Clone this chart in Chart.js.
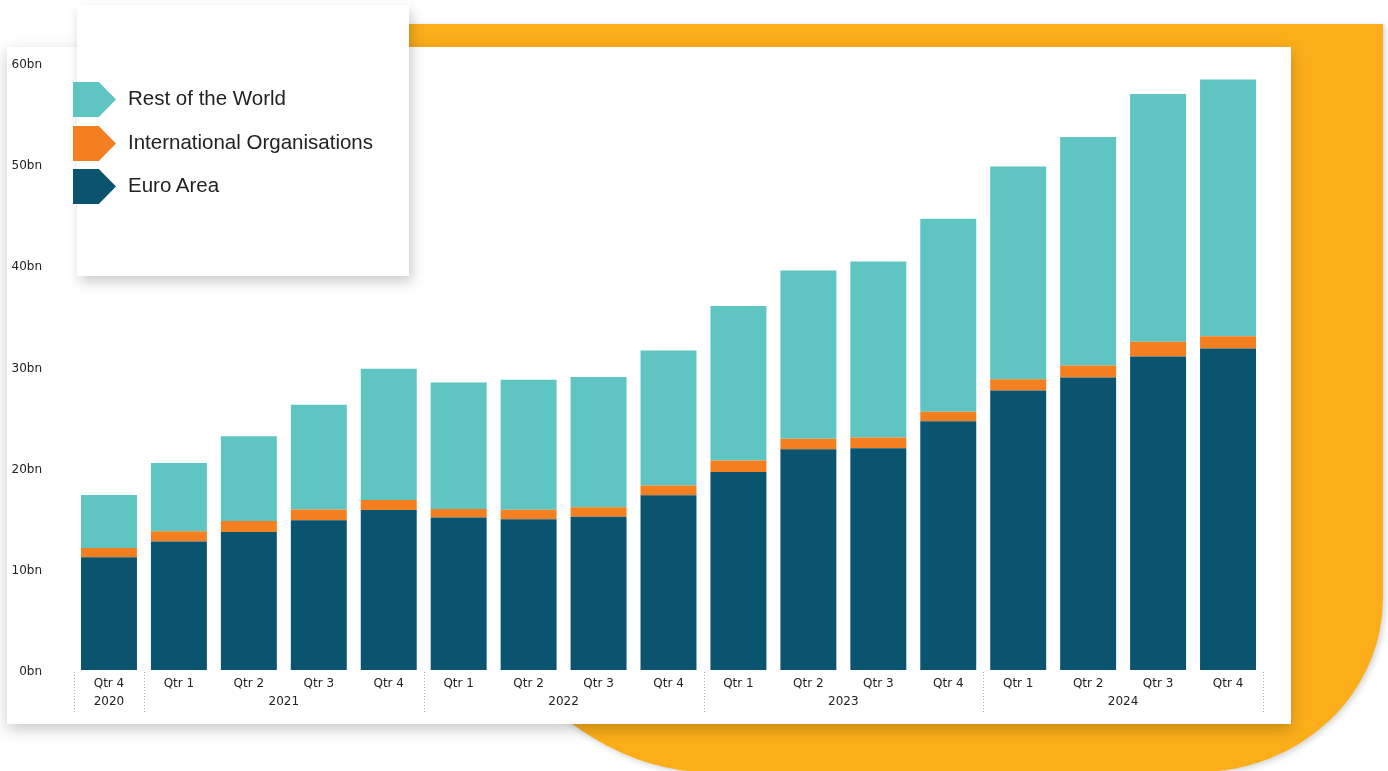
<!DOCTYPE html>
<html>
<head>
<meta charset="utf-8">
<script src="https://cdn.jsdelivr.net/npm/chart.js@4.4.1/dist/chart.umd.min.js"></script>
<style>
  html, body { margin: 0; padding: 0; background: #ffffff; }
  body { width: 1388px; height: 771px; position: relative; overflow: hidden; }
  #orange {
    position: absolute; left: 409px; top: 24px; width: 974px; height: 748px;
    background: #FBAE1A;
    border-radius: 0 0 185px 300px / 0 0 174px 439px;
    box-shadow: 2px 2px 6px rgba(0,0,0,0.18);
  }
  #card {
    position: absolute; left: 7px; top: 47px; width: 1284px; height: 677px;
    background: #ffffff;
    box-shadow: 0 5px 14px rgba(0,0,0,0.22);
  }
  #legendCard {
    position: absolute; left: 77px; top: 5px; width: 332px; height: 271px;
    background: #ffffff;
    box-shadow: 3px 6px 12px rgba(0,0,0,0.2);
  }
  .lg-mark {
    position: absolute; left: 73px; width: 43px; height: 35px;
    clip-path: polygon(0 0, 60% 0, 100% 50%, 60% 100%, 0 100%);
  }
  .lg-text {
    position: absolute; left: 128px; height: 30px; line-height: 30px;
    font-family: "Liberation Sans", Arial, sans-serif; font-size: 20.5px; color: #222;
    white-space: nowrap;
  }
  canvas { position: absolute; left: 0; top: 0; }
</style>
</head>
<body>
<div id="orange"></div>
<div id="card"><canvas id="chart" width="1284" height="677"></canvas></div>
<div id="legendCard"></div>
<div id="legend"></div>
<script>
const quarters = ["Qtr 4","Qtr 1","Qtr 2","Qtr 3","Qtr 4","Qtr 1","Qtr 2","Qtr 3","Qtr 4","Qtr 1","Qtr 2","Qtr 3","Qtr 4","Qtr 1","Qtr 2","Qtr 3","Qtr 4"];
const years = ["2020","2021","2021","2021","2021","2022","2022","2022","2022","2023","2023","2023","2023","2024","2024","2024","2024"];
const yTicks = [0, 10, 20, 30, 40, 50, 60];
const euroArea = [11.15, 12.69, 13.65, 14.81, 15.82, 15.07, 14.91, 15.16, 17.28, 19.58, 21.83, 21.93, 24.59, 27.63, 28.91, 31.00, 31.78];
const intlOrgs = [0.92, 1.03, 1.09, 1.05, 0.99, 0.85, 0.92, 0.93, 0.95, 1.12, 1.02, 1.04, 0.93, 1.11, 1.19, 1.44, 1.21];
const restOfWorld = [5.24, 6.73, 8.37, 10.35, 12.96, 12.49, 12.85, 12.86, 13.35, 15.28, 16.63, 17.42, 19.09, 21.04, 22.59, 24.50, 25.37];
const seriesNames = ["Euro Area", "International Organisations", "Rest of the World"];
const seriesColors = ["#0B5470", "#F47F20", "#5EC5C2"];
const legendOrder = [2, 1, 0];

// HTML legend built from series definitions
const legendEl = document.getElementById('legend');
const legendTops = [82, 126, 169];
legendOrder.forEach((si, i) => {
  const m = document.createElement('div');
  m.className = 'lg-mark';
  m.style.top = legendTops[i] + 'px';
  m.style.background = seriesColors[si];
  legendEl.appendChild(m);
  const t = document.createElement('div');
  t.className = 'lg-text';
  t.style.top = (legendTops[i] + 17.5 - 16.5) + 'px';
  t.textContent = seriesNames[si];
  legendEl.appendChild(t);
});

const yearGroups = [];
years.forEach((y, i) => {
  const g = yearGroups[yearGroups.length - 1];
  if (g && g.year === y) g.end = i; else yearGroups.push({year: y, start: i, end: i});
});

const yearPlugin = {
  id: 'yearPlugin',
  afterDraw(chart) {
    const ctx = chart.ctx;
    const xs = chart.scales.x;
    const area = chart.chartArea;
    const cw = xs.getPixelForValue(1) - xs.getPixelForValue(0);
    ctx.save();
    ctx.font = '12px "DejaVu Sans"';
    ctx.fillStyle = '#222';
    ctx.textAlign = 'center';
    ctx.textBaseline = 'middle';
    const bounds = new Set();
    yearGroups.forEach(g => {
      const x0 = xs.getPixelForValue(g.start);
      const x1 = xs.getPixelForValue(g.end);
      ctx.fillText(g.year, (x0 + x1) / 2, area.bottom + 32);
      bounds.add(Math.round((x0 - cw / 2) * 10) / 10);
      bounds.add(Math.round((x1 + cw / 2) * 10) / 10);
    });
    ctx.strokeStyle = '#b5b5b5';
    ctx.lineWidth = 1;
    ctx.setLineDash([1, 2]);
    bounds.forEach(bx => {
      const x = Math.round(bx) + 0.5;
      ctx.beginPath();
      ctx.moveTo(x, area.bottom + 2);
      ctx.lineTo(x, area.bottom + 42);
      ctx.stroke();
    });
    ctx.restore();
  }
};

const dataSets = [euroArea, intlOrgs, restOfWorld].map((d, i) => ({
  label: seriesNames[i],
  data: d,
  backgroundColor: seriesColors[i],
  borderWidth: 0,
  barPercentage: 0.8,
  categoryPercentage: 1.0
}));

new Chart(document.getElementById('chart'), {
  type: 'bar',
  data: { labels: quarters, datasets: dataSets },
  options: {
    responsive: false,
    animation: false,
    events: [],
    layout: { padding: { left: 0, top: 16, right: 28, bottom: 0 } },
    plugins: { legend: { display: false }, tooltip: { enabled: false } },
    scales: {
      x: {
        stacked: true,
        grid: { display: false, drawTicks: false, tickLength: 0 },
        border: { display: false },
        ticks: { autoSkip: false, maxRotation: 0, padding: 7, color: '#222', font: { family: 'DejaVu Sans', size: 12 } },
        afterFit(s) { s.height = 54; s.paddingLeft = 0; s.paddingRight = 0; }
      },
      y: {
        stacked: true,
        min: yTicks[0],
        max: yTicks[yTicks.length - 1],
        afterBuildTicks(s) { s.ticks = yTicks.map(v => ({ value: v })); },
        grid: { display: false, drawTicks: false, tickLength: 0 },
        border: { display: false },
        ticks: { padding: 32, labelOffset: 2, color: '#222', font: { family: 'DejaVu Sans', size: 12 }, callback: v => v + 'bn' },
        afterFit(s) { s.width = 67; s.paddingTop = 7; s.paddingBottom = 7; }
      }
    }
  },
  plugins: [yearPlugin]
});
</script>
</body>
</html>
